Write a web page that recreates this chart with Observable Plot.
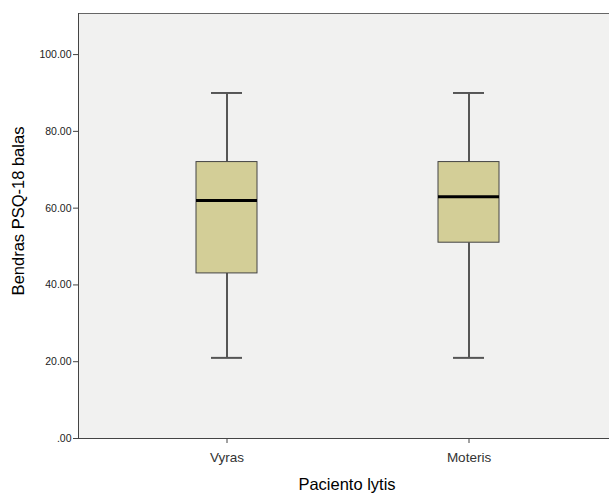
<!DOCTYPE html>
<html>
<head>
<meta charset="utf-8">
<script src="https://cdn.jsdelivr.net/npm/d3@7"></script>
<script src="https://cdn.jsdelivr.net/npm/@observablehq/plot@0.6"></script>
<style>
  body { margin: 0; background: #fff; }
</style>
</head>
<body>
<div id="chart"></div>
<script>
// Five-number summaries of the PSQ-18 total score by patient sex
const groups = ["Vyras", "Moteris"];
const minima = [21, 21];
const lowerQuartiles = [43, 51];
const medians = [62, 63];
const upperQuartiles = [72, 72];
const maxima = [90, 90];
const yTicks = [0, 20, 40, 60, 80, 100];

const stats = groups.map((g, i) => ({
  group: g,
  min: minima[i],
  q1: lowerQuartiles[i],
  median: medians[i],
  q3: upperQuartiles[i],
  max: maxima[i]
}));

const fmt = d => d === 0 ? ".00" : d.toFixed(2);
const yTitle = "Bendras PSQ-18 balas";
const xTitle = "Paciento lytis";

const chart = Plot.plot({
  width: 609,
  height: 495,
  marginLeft: 78,
  marginRight: 0,
  marginTop: 13,
  marginBottom: 57,
  style: { fontFamily: "'Liberation Sans', Arial, sans-serif", background: "#fff", color: "#222" },
  x: { domain: groups, type: "band", range: [80, 614], paddingInner: 0.748, paddingOuter: 0.477 },
  y: { domain: [0, 110.7] },
  marks: [
    Plot.frame({ fill: "#f1f1f0" }),
    Plot.frame({ anchor: "top", stroke: "#666" }),
    Plot.frame({ anchor: "left", stroke: "#444" }),
    Plot.frame({ anchor: "bottom", stroke: "#444" }),
    Plot.axisY({ ticks: yTicks, tickFormat: fmt, tickSize: 5, tickPadding: 2, fontSize: 10.5, label: null, stroke: "#444" }),
    Plot.axisX({ tickSize: 5, tickPadding: 9, fontSize: 13.5, label: null, stroke: "#444", fill: "#333" }),
    // whiskers
    Plot.ruleX(stats, { x: "group", y1: "min", y2: "q1", stroke: "#222", strokeWidth: 1.5 }),
    Plot.ruleX(stats, { x: "group", y1: "q3", y2: "max", stroke: "#222", strokeWidth: 1.5 }),
    // interquartile boxes
    Plot.barY(stats, { x: "group", y1: "q1", y2: "q3", fill: "#d3ce97", stroke: "#444", strokeWidth: 1 }),
    // medians
    Plot.tickY(stats, { x: "group", y: "median", stroke: "#000", strokeWidth: 3 }),
    // whisker caps
    Plot.tickY(stats, { x: "group", y: "min", stroke: "#555", strokeWidth: 2, insetLeft: 15, insetRight: 15 }),
    Plot.tickY(stats, { x: "group", y: "max", stroke: "#555", strokeWidth: 2, insetLeft: 15, insetRight: 15 }),
    // axis titles
    Plot.text([yTitle], { text: d => d, frameAnchor: "left", textAnchor: "middle", lineAnchor: "middle", rotate: -90, dx: -60, dy: -15, fontSize: 16.5, fill: "#000" }),
    Plot.text([xTitle], { text: d => d, frameAnchor: "bottom", textAnchor: "middle", lineAnchor: "middle", dx: 3, dy: 46, fontSize: 16.5, fill: "#000" })
  ]
});

document.getElementById("chart").append(chart);
</script>
</body>
</html>
